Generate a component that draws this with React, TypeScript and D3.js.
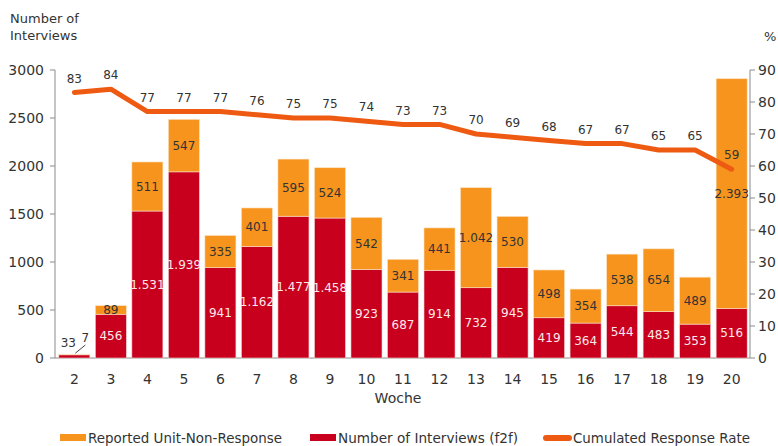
import * as d3 from "d3";

const weeks = ["2", "3", "4", "5", "6", "7", "8", "9", "10", "11", "12", "13", "14", "15", "16", "17", "18", "19", "20"];
const interviews = [33, 456, 1531, 1939, 941, 1162, 1477, 1458, 923, 687, 914, 732, 945, 419, 364, 544, 483, 353, 516];
const nonResponse = [7, 89, 511, 547, 335, 401, 595, 524, 542, 341, 441, 1042, 530, 498, 354, 538, 654, 489, 2393];
const responseRate = [83, 84, 77, 77, 77, 76, 75, 75, 74, 73, 73, 70, 69, 68, 67, 67, 65, 65, 59];
const leftTicks = [0, 500, 1000, 1500, 2000, 2500, 3000];
const rightTicks = [0, 10, 20, 30, 40, 50, 60, 70, 80, 90];

const ORANGE = "#F7941D";
const RED = "#C8001E";
const LINE = "#EE5A12";
const AXIS = "#8a8a8a";
const TEXT = "#333";
const FONT = "'DejaVu Sans', sans-serif";

const fmt = (v: number) => (v >= 1000 ? d3.format(",")(v).replace(",", ".") : String(v));

export default function App() {
  const W = 778, H = 446;
  const left = 55, right = 750, top = 70, bottom = 358;

  const x = d3.scaleBand().domain(weeks).range([57, 749]).paddingInner(0.15).paddingOuter(0.05);
  const yL = d3.scaleLinear().domain([0, 3000]).range([bottom, top]);
  const yR = d3.scaleLinear().domain([0, 90]).range([bottom, top]);
  const bw = x.bandwidth();
  const cx = (w: string) => (x(w) as number) + bw / 2;

  const line = d3.line<number>()
    .x((_, i) => cx(weeks[i]))
    .y((d) => yR(d));

  const legend = [
    { label: "Reported Unit-Non-Response", sx: 60, tx: 88, len: 194, kind: "rect", color: ORANGE },
    { label: "Number of Interviews (f2f)", sx: 310, tx: 338, len: 180, kind: "rect", color: RED },
    { label: "Cumulated Response Rate", sx: 543, tx: 573, len: 177, kind: "line", color: LINE },
  ];

  return (
    <svg width={W} height={H} style={{ position: "absolute", left: 0, top: 0, fontFamily: FONT }}>
      <text x={10} y={23} fontSize={13} fill={TEXT}>Number of</text>
      <text x={10} y={40} fontSize={13} fill={TEXT}>Interviews</text>
      <text x={764} y={41} fontSize={13} fill={TEXT}>%</text>

      {/* left axis */}
      <line x1={left} x2={left} y1={top} y2={bottom} stroke={AXIS} />
      {leftTicks.map((t) => (
        <g key={"l" + t}>
          <line x1={left - 5} x2={left} y1={yL(t)} y2={yL(t)} stroke={AXIS} />
          <text x={44} y={yL(t)} dy="0.35em" textAnchor="end" fontSize={14} fill={TEXT}>{t}</text>
        </g>
      ))}
      {/* right axis */}
      <line x1={right} x2={right} y1={top} y2={bottom} stroke={AXIS} />
      {rightTicks.map((t) => (
        <g key={"r" + t}>
          <line x1={right} x2={right + 5} y1={yR(t)} y2={yR(t)} stroke={AXIS} />
          <text x={758} y={yR(t)} dy="0.35em" fontSize={14} fill={TEXT}>{t}</text>
        </g>
      ))}
      <line x1={left} x2={right} y1={bottom} y2={bottom} stroke={AXIS} />

      {/* bars */}
      {weeks.map((w, i) => {
        const r = interviews[i], o = nonResponse[i];
        const yr = yL(r), yo = yL(r + o);
        return (
          <g key={w}>
            <rect x={x(w)} y={yr} width={bw} height={bottom - yr} fill={RED} stroke="#f4d6d6" strokeWidth={0.6} />
            <rect x={x(w)} y={yo} width={bw} height={yr - yo} fill={ORANGE} stroke="#fbe3c4" strokeWidth={0.6} />
            {i === 0 ? null : (
              <>
                <text x={cx(w)} y={(yr + bottom) / 2} dy="0.35em" textAnchor="middle" fontSize={12} fill="#fbe9ea">{fmt(r)}</text>
                <text x={cx(w)} y={(yr + yo) / 2} dy="0.35em" textAnchor="middle" fontSize={12} fill={TEXT}>{fmt(o)}</text>
              </>
            )}
            <text x={cx(w)} y={379} dy="0.35em" textAnchor="middle" fontSize={14} fill={TEXT}>{w}</text>
          </g>
        );
      })}
      {/* week 2 labels with leader */}
      <text x={cx(weeks[0]) - 6} y={343} dy="0.35em" textAnchor="middle" fontSize={12} fill={TEXT}>{interviews[0]}</text>
      <text x={cx(weeks[0]) + 11} y={338} dy="0.35em" textAnchor="middle" fontSize={12} fill={TEXT}>{nonResponse[0]}</text>
      <line x1={cx(weeks[0]) + 1} y1={yL(interviews[0] + nonResponse[0]) - 1} x2={cx(weeks[0]) + 11} y2={345} stroke="#111" strokeWidth={0.8} />

      <text x={398} y={398} dy="0.35em" textAnchor="middle" fontSize={14} fill={TEXT}>Woche</text>

      {/* rate line */}
      <path d={line(responseRate) ?? ""} fill="none" stroke={LINE} strokeWidth={5} strokeLinejoin="round" strokeLinecap="round" />
      {responseRate.map((v, i) => (
        <text key={"v" + i} x={cx(weeks[i])} y={yR(v) - 14} dy="0.35em" textAnchor="middle" fontSize={12} fill={TEXT}>{v}</text>
      ))}

      {/* legend */}
      {legend.map((l) => (
        <g key={l.label}>
          {l.kind === "rect" ? (
            <rect x={l.sx} y={434} width={26} height={7} fill={l.color} />
          ) : (
            <line x1={l.sx + 3} x2={l.sx + 26} y1={438} y2={438} stroke={l.color} strokeWidth={6} strokeLinecap="round" />
          )}
          <text x={l.tx} y={438} dy="0.35em" fontSize={14} fill={TEXT} textLength={l.len} lengthAdjust="spacingAndGlyphs">{l.label}</text>
        </g>
      ))}
    </svg>
  );
}
